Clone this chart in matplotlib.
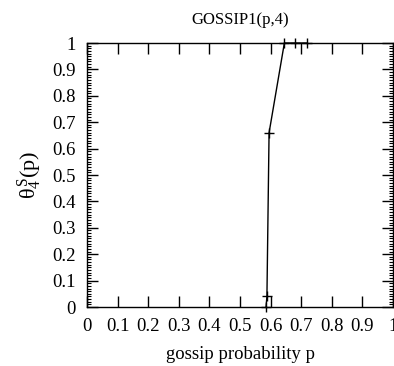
import matplotlib
matplotlib.use("Agg")
import matplotlib.pyplot as plt
import numpy as np
from matplotlib.ticker import MultipleLocator

p_values = [0.585, 0.588, 0.595, 0.645, 0.68, 0.72]
theta_values = [0.0, 0.04, 0.66, 1.0, 1.0, 1.0]
x_ticks = [0, 0.1, 0.2, 0.3, 0.4, 0.5, 0.6, 0.7, 0.8, 0.9, 1]
y_ticks = [0, 0.1, 0.2, 0.3, 0.4, 0.5, 0.6, 0.7, 0.8, 0.9, 1]
tick_labels = ["0", "0.1", "0.2", "0.3", "0.4", "0.5", "0.6", "0.7", "0.8", "0.9", "1"]

plt.rcParams['font.family'] = ['Liberation Serif', 'DejaVu Serif']
plt.rcParams['mathtext.fontset'] = 'custom'
plt.rcParams['mathtext.rm'] = 'Liberation Serif'
plt.rcParams['mathtext.it'] = 'Liberation Serif'

fig = plt.figure(figsize=(3.94, 3.66), dpi=100)
ax = fig.add_axes([87/394, 1 - 307/366, 306/394, 264/366])

ax.plot(p_values, theta_values, color='black', lw=1.0, marker='+', ms=7, mew=1.0, clip_on=False)

ax.set_xlim(0, 1)
ax.set_ylim(0, 1)
ax.set_xticks(x_ticks)
ax.set_xticklabels(tick_labels)
ax.set_yticks(y_ticks)
ax.set_yticklabels(tick_labels)
ax.yaxis.set_minor_locator(MultipleLocator(0.01))

ax.tick_params(which='major', direction='in', length=8, width=1, top=True, right=True, labelsize=13.5, pad=8)
ax.tick_params(which='minor', direction='in', length=3, width=0.8, top=True, right=True)
for s in ax.spines.values():
    s.set_linewidth(1.0)

ax.set_title('GOSSIP1(p,4)', fontsize=12, pad=14)
ax.set_xlabel('gossip probability p', fontsize=13.5, labelpad=8)
ax.set_ylabel(r'$\theta_4^S$(p)', fontsize=16, labelpad=6)

fig.savefig('out.png', dpi=100)
